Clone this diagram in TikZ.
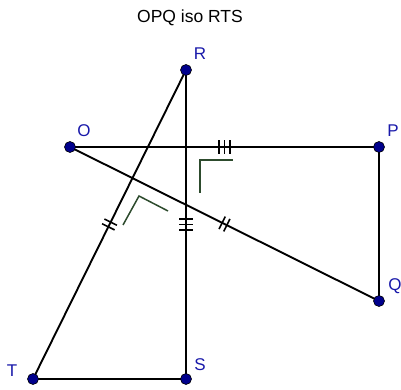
\documentclass[tikz,border=0pt]{standalone}
\usepackage{fontspec}
\setmainfont{Liberation Sans}
\usetikzlibrary{decorations.markings}
\definecolor{dotblue}{RGB}{0,0,140}
\definecolor{labblue}{RGB}{25,25,170}
\definecolor{angg}{RGB}{45,75,45}
\tikzset{
  seg/.style={line width=1.9pt, black},
  dotpt/.style={circle, fill=dotblue, draw=black, line width=0.6pt, inner sep=0pt, minimum size=11pt},
  lab/.style={text=labblue, font=\fontsize{17}{19}\selectfont, inner sep=0pt},
  angmark/.style={line width=1.5pt, draw=angg},
  ticktwo/.style={postaction={decorate, decoration={markings, mark=at position 0.5 with {\draw[line width=1.6pt] (-2.6pt,-7pt)--(-2.6pt,7pt) (2.6pt,-7pt)--(2.6pt,7pt);}}}},
  tickthree/.style={postaction={decorate, decoration={markings, mark=at position 0.5 with {\draw[line width=1.6pt] (-5.5pt,-7pt)--(-5.5pt,7pt) (0pt,-7pt)--(0pt,7pt) (5.5pt,-7pt)--(5.5pt,7pt);}}}},
}
\begin{document}
\begin{tikzpicture}[x=1pt,y=1pt]
\useasboundingbox (0,0) rectangle (401,390);
\coordinate (R) at (186,320);
\coordinate (O) at (70,243);
\coordinate (P) at (379,243);
\coordinate (Q) at (379,89);
\coordinate (T) at (33,11);
\coordinate (S) at (186,11);
\node[font=\fontsize{17.5}{20}\selectfont, inner sep=0pt] (title) at (190,372) {OPQ iso RTS};
% right angle markers
\draw[angmark] (200,197) -- (200,230) -- (233,230);
\draw[angmark] (123,165) -- (139,194) -- (168,179);
% segments
\draw[seg, ticktwo] (R) -- (T);
\draw[seg, tickthree] (R) -- (S);
\draw[seg] (T) -- (S);
\draw[seg, tickthree] (O) -- (P);
\draw[seg] (P) -- (Q);
\draw[seg, ticktwo] (O) -- (Q);
% points
\node[dotpt] (dR) at (R) {};
\node[dotpt] (dO) at (O) {};
\node[dotpt] (dP) at (P) {};
\node[dotpt] (dQ) at (Q) {};
\node[dotpt] (dT) at (T) {};
\node[dotpt] (dS) at (S) {};
% labels
\node[lab] (lR) at (200,336) {R};
\node[lab] (lO) at (84,259) {O};
\node[lab] (lP) at (393,259) {P};
\node[lab] (lQ) at (395,104) {Q};
\node[lab] (lT) at (12,19) {T};
\node[lab] (lS) at (200,25) {S};
\end{tikzpicture}
\end{document}
